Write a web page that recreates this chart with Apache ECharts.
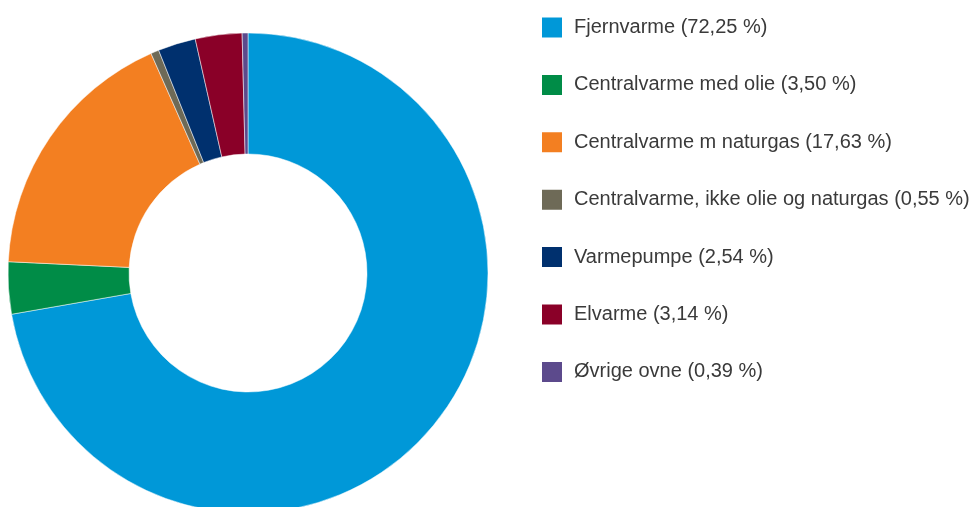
<!DOCTYPE html>
<html>
<head>
<meta charset="utf-8">
<script src="https://cdn.jsdelivr.net/npm/echarts@6/dist/echarts.min.js"></script>
<style>html,body{margin:0;padding:0;background:#fff;}#c{width:973px;height:507px;}</style>
</head>
<body>
<div id="c"></div>
<script>
const categories = ["Fjernvarme", "Centralvarme med olie", "Centralvarme m naturgas", "Centralvarme, ikke olie og naturgas", "Varmepumpe", "Elvarme", "Øvrige ovne"];
const values = [72.25, 3.50, 17.63, 0.55, 2.54, 3.14, 0.39];
const colors = ["#0098d8", "#008c47", "#f37f21", "#6e6a57", "#00306e", "#8a0028", "#5c4a8c"];

const fmt = v => v.toFixed(2).replace('.', ',');
const data = categories.map((c, i) => ({ name: c, value: values[i], itemStyle: { color: colors[i] } }));

const chart = echarts.init(document.getElementById('c'));
chart.setOption({
  animation: false,
  legend: {
    orient: 'vertical',
    left: 540,
    top: 15.5,
    padding: 0,
    itemWidth: 22,
    itemHeight: 22,
    itemGap: 33.4,
    icon: 'rect',
    textStyle: { fontFamily: 'Liberation Sans, Arial, sans-serif', fontSize: 20, color: '#3a3a3a', padding: [0, 0, 0, 6], lineHeight: 20 },
    formatter: name => {
      const i = categories.indexOf(name);
      return name + ' (' + fmt(values[i]) + ' %)';
    },
    data: categories
  },
  series: [{
    type: 'pie',
    center: [248, 273],
    radius: [119, 240],
    startAngle: 90,
    clockwise: true,
    label: { show: false },
    labelLine: { show: false },
    itemStyle: { borderColor: '#ffffff', borderWidth: 0.5 },
    data: data
  }]
});
</script>
</body>
</html>
